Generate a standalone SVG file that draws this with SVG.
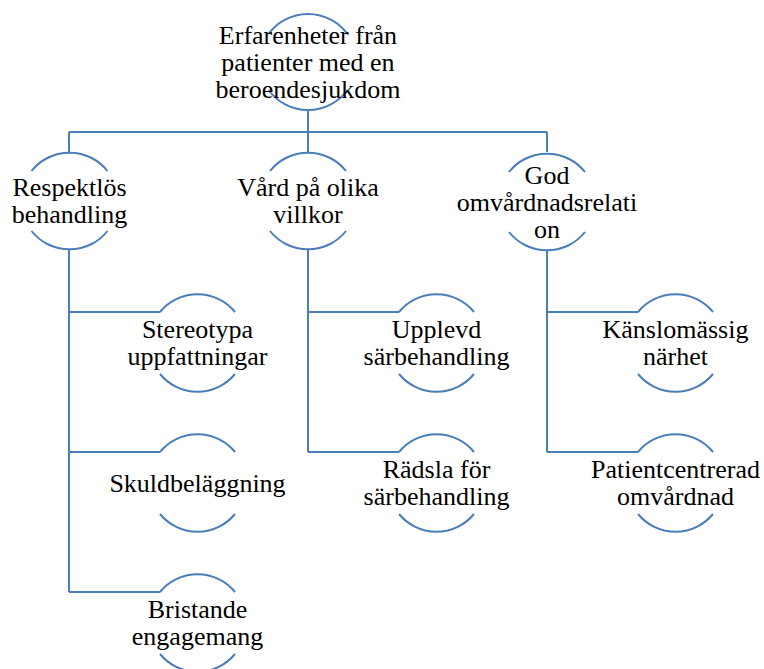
<svg xmlns="http://www.w3.org/2000/svg" width="764" height="669" viewBox="0 0 764 669">
<style>
.c{fill:none;stroke:#4A7EBB;stroke-width:2}
.a{fill:none;stroke:#4A7EBB;stroke-width:2}
.t text{font-family:'Liberation Serif','DejaVu Serif','Noto Serif',serif;font-size:26px;fill:#000;text-anchor:middle}
</style>
<rect width="764" height="669" fill="#fff"/>
<g id="connectors">
<path class="c" d="M308 111 V132 M69 132 H547 M69 132 V152 M308 132 V152 M547 132 V152"/>
<path class="c" d="M69 249 V592 M69 312 H160 M69 452 H160 M69 592 H160"/>
<path class="c" d="M308 249 V452 M308 312 H399 M308 452 H399"/>
<path class="c" d="M547 250 V452 M547 312 H638 M547 452 H638"/>
</g>
<g class="t">
<g id="root">
<path class="a" d="M268.5 34 A49 49 0 0 1 347.5 34 M268.5 90 A49 49 0 0 0 347.5 90"/>
<text x="308" y="44">Erfarenheter från</text>
<text x="308" y="71">patienter med en</text>
<text x="308" y="98">beroendesjukdom</text>
</g>
<g id="n-respektlos">
<path class="a" d="M31.5 171 A48.5 48.5 0 0 1 107.5 171 M31.5 231 A48.5 48.5 0 0 0 107.5 231"/>
<text x="69.5" y="196">Respektlös</text>
<text x="69.5" y="223">behandling</text>
</g>
<g id="n-vard">
<path class="a" d="M270 171 A48.5 48.5 0 0 1 346 171 M270 231 A48.5 48.5 0 0 0 346 231"/>
<text x="308" y="196">Vård på olika</text>
<text x="308" y="223">villkor</text>
</g>
<g id="n-god">
<path class="a" d="M509 172 A48.5 48.5 0 0 1 585 172 M509 232 A48.5 48.5 0 0 0 585 232"/>
<text x="547" y="184">God</text>
<text x="547" y="211">omvårdnadsrelati</text>
<text x="547" y="238">on</text>
</g>
<g id="n-stereotypa">
<path class="a" d="M160 312 A48.5 48.5 0 0 1 235 312 M160 374 A48.5 48.5 0 0 0 235 374"/>
<text x="197.5" y="338">Stereotypa</text>
<text x="197.5" y="365">uppfattningar</text>
</g>
<g id="n-skuld">
<path class="a" d="M160 452 A48.5 48.5 0 0 1 235 452 M160 514 A48.5 48.5 0 0 0 235 514"/>
<text x="197.5" y="492">Skuldbeläggning</text>
</g>
<g id="n-bristande">
<path class="a" d="M160 592 A48.5 48.5 0 0 1 235 592 M160 654 A48.5 48.5 0 0 0 235 654"/>
<text x="197.5" y="618">Bristande</text>
<text x="197.5" y="645">engagemang</text>
</g>
<g id="n-upplevd">
<path class="a" d="M399 312 A48.5 48.5 0 0 1 474 312 M399 374 A48.5 48.5 0 0 0 474 374"/>
<text x="436.5" y="338">Upplevd</text>
<text x="436.5" y="365">särbehandling</text>
</g>
<g id="n-radsla">
<path class="a" d="M399 452 A48.5 48.5 0 0 1 474 452 M399 514 A48.5 48.5 0 0 0 474 514"/>
<text x="436.5" y="478">Rädsla för</text>
<text x="436.5" y="505">särbehandling</text>
</g>
<g id="n-kansla">
<path class="a" d="M638 312 A48.5 48.5 0 0 1 713 312 M638 374 A48.5 48.5 0 0 0 713 374"/>
<text x="675.5" y="338">Känslomässig</text>
<text x="675.5" y="365">närhet</text>
</g>
<g id="n-patient">
<path class="a" d="M638 452 A48.5 48.5 0 0 1 713 452 M638 514 A48.5 48.5 0 0 0 713 514"/>
<text x="675.5" y="478">Patientcentrerad</text>
<text x="675.5" y="505">omvårdnad</text>
</g>
</g>
</svg>
